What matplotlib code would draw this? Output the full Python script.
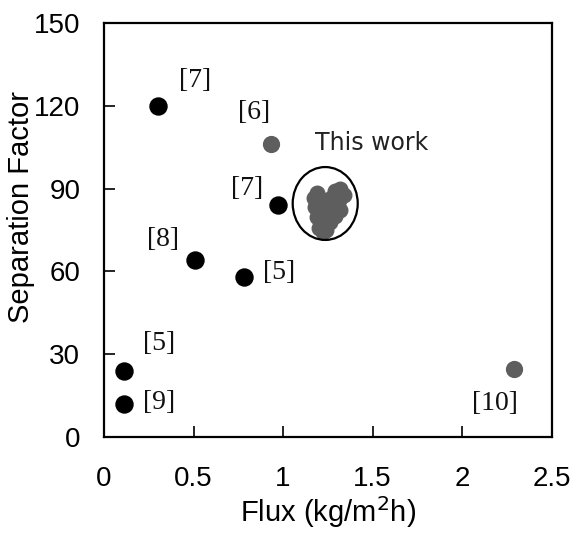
"""Separation factor vs flux: literature values and this work."""

import matplotlib

matplotlib.use("Agg")

import matplotlib.pyplot as plt  # noqa: E402
from matplotlib.patches import Ellipse  # noqa: E402

# literature points (black)
lit_flux = [0.30, 0.97, 0.51, 0.78, 0.11, 0.11]
lit_sep = [120, 84, 64, 58, 24, 12]

# literature points (gray)
gray_flux = [0.93, 2.29]
gray_sep = [106, 24.5]

# this work (cluster)
work_flux = [1.17, 1.19, 1.22, 1.18, 1.20, 1.24, 1.27, 1.29, 1.32, 1.34, 1.31,
             1.28, 1.25, 1.19, 1.22, 1.26, 1.20, 1.24, 1.22, 1.32, 1.29]
work_sep = [86.5, 88.3, 85.9, 83.3, 82.2, 84.1, 86.6, 89.0, 90.0, 87.5, 85.9,
            83.0, 80.4, 79.7, 77.9, 77.9, 75.7, 75.0, 74.2, 82.2, 80.1]

# reference labels
ref_labels = ["[7]", "[6]", "[7]", "[8]", "[5]", "[5]", "[9]", "[10]"]
ref_x = [0.51, 0.84, 0.80, 0.33, 0.98, 0.31, 0.31, 2.18]
ref_y = [129, 117.5, 90, 71.5, 59.5, 34, 12.5, 12.3]

fig = plt.figure(figsize=(5.73, 5.34), dpi=100)
ax = fig.add_axes([0.1815, 0.1816, 0.7815, 0.7754])

ax.scatter(lit_flux, lit_sep, s=150, color="black", zorder=3)
ax.scatter(gray_flux, gray_sep, s=130, color="#5e5e5e", zorder=3)
ax.scatter(work_flux, work_sep, s=110, color="#5e5e5e", zorder=3)

ax.add_patch(Ellipse((1.235, 84.6), 0.363, 26.4, fill=False,
                     edgecolor="black", linewidth=1.6, zorder=4))

for lab, x, y in zip(ref_labels, ref_x, ref_y):
    ax.text(x, y, lab, ha="center", va="center", fontsize=20,
            family="Liberation Serif", color="#111111")
ax.text(1.177, 106.5, "This work", ha="left", va="center", fontsize=17,
        family="DejaVu Sans", color="#222222")

ax.set_xlim(0, 2.5)
ax.set_ylim(0, 150)
ax.set_xticks([0, 0.5, 1, 1.5, 2, 2.5])
ax.set_xticklabels(["0", "0.5", "1", "1.5", "2", "2.5"])
ax.set_yticks([0, 30, 60, 90, 120, 150])

for side in ax.spines.values():
    side.set_linewidth(1.6)
ax.tick_params(direction="in", length=8, width=1.2, labelsize=20,
               labelfontfamily="Liberation Sans", pad=17)
ax.tick_params(axis="x", pad=21)

ax.set_xlabel("Flux (kg/m$^2$h)", fontsize=21, family="Liberation Sans",
              labelpad=1.5)
ax.set_ylabel("Separation Factor", fontsize=21, family="Liberation Sans")
ax.yaxis.set_label_coords(-0.155, 0.555)

fig.savefig("out.png", dpi=100)
